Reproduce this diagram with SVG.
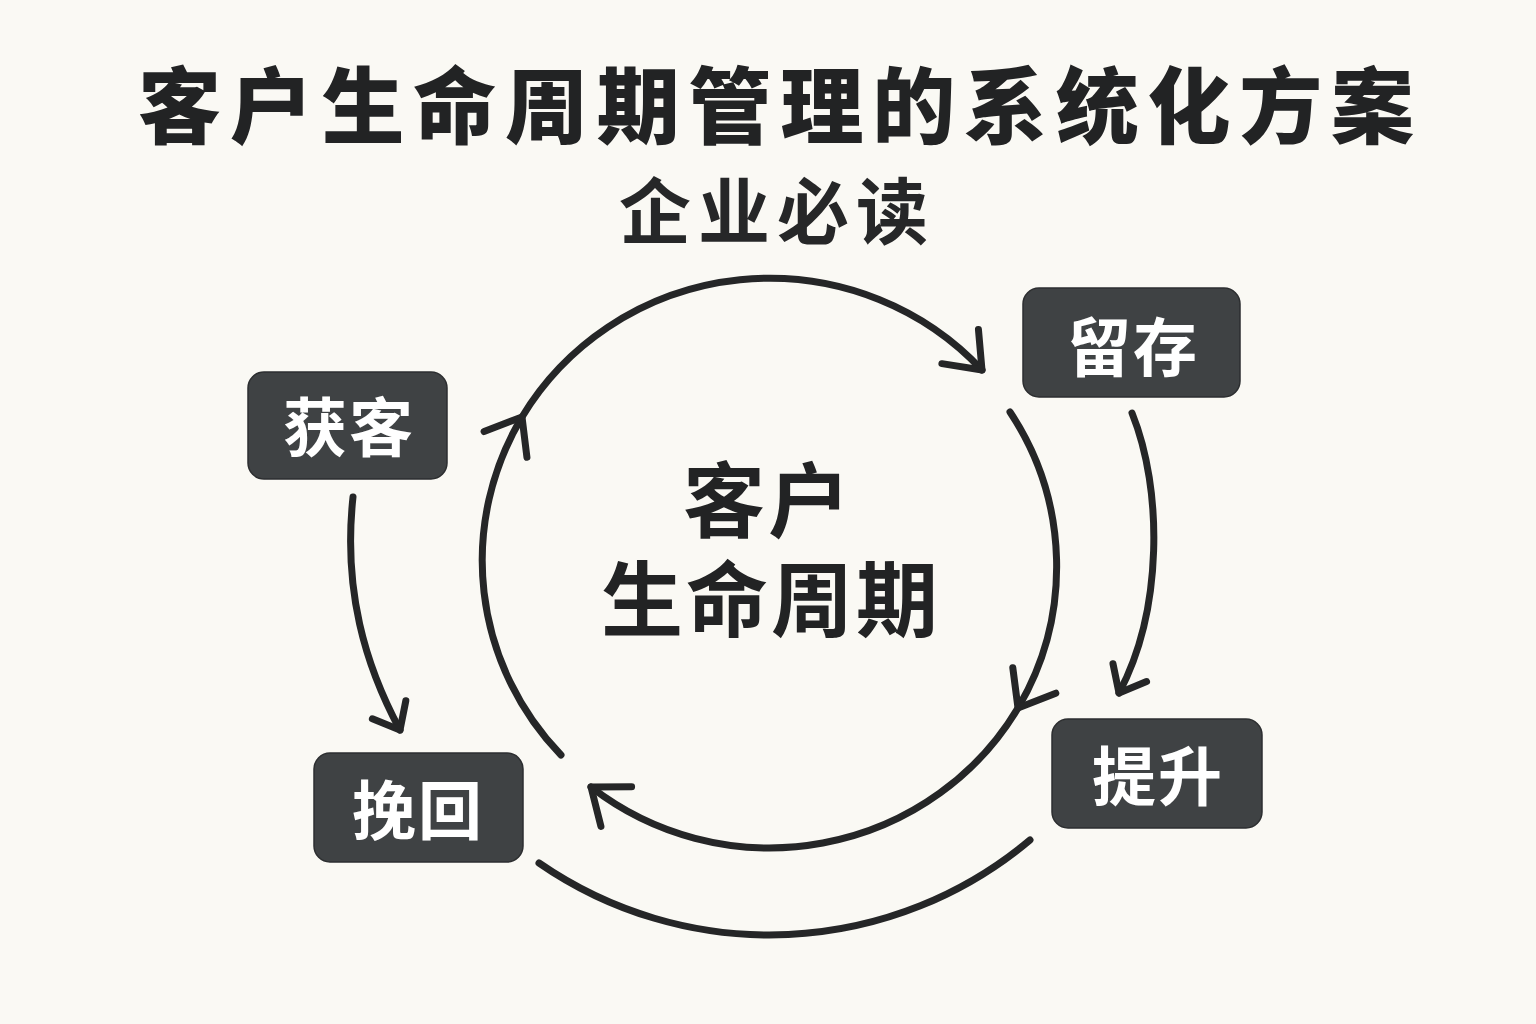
<svg xmlns="http://www.w3.org/2000/svg" width="1536" height="1024" viewBox="0 0 1536 1024">
<style>
.title{font-family:"Noto Sans CJK SC","Noto Sans",sans-serif;font-weight:900;fill:#222324}
.sub{font-family:"Noto Sans CJK SC","Noto Sans",sans-serif;font-weight:700;fill:#262728}
.center{font-family:"Noto Sans CJK SC","Noto Sans",sans-serif;font-weight:700;fill:#222324;text-anchor:middle}
.box{fill:#3f4244;stroke:#2c2e30;stroke-width:1.5}
.lbl{font-family:"Noto Sans CJK SC","Noto Sans",sans-serif;font-weight:700;fill:#ffffff;font-size:64px;text-anchor:middle;letter-spacing:2px}
.edge{fill:none;stroke:#252627;stroke-width:7;stroke-linecap:round}
.ah{fill:none;stroke:#252627;stroke-width:7;stroke-linecap:round;stroke-linejoin:round}
</style>
<defs>
<marker id="big" markerUnits="userSpaceOnUse" viewBox="-45 -35 55 70" refX="0" refY="0" markerWidth="55" markerHeight="70" orient="auto" overflow="visible">
<path class="ah" d="M-32,-25 L0,0 L-32,25"/>
</marker>
<marker id="small" markerUnits="userSpaceOnUse" viewBox="-35 -30 45 60" refX="0" refY="0" markerWidth="45" markerHeight="60" orient="auto" overflow="visible">
<path class="ah" d="M-23,-19 L0,0 L-23,19"/>
</marker>
</defs>
<rect width="1536" height="1024" fill="#faf9f4"/>
<text class="title" x="138" y="137" font-size="83" textLength="1276" lengthAdjust="spacing">客户生命周期管理的系统化方案</text>
<text class="sub" x="619" y="238" font-size="72" letter-spacing="7">企业必读</text>
<g id="center">
<text class="center" font-size="82" letter-spacing="3"><tspan x="768" y="531">客户</tspan><tspan x="771" y="630">生命周期</tspan></text>
</g>
<g id="connectors">
<path class="edge" d="M561,755 A288,283 0 0 1 522,417 A288,283 0 0 1 982,370" marker-mid="url(#big)" marker-end="url(#big)"/>
<path class="edge" d="M1010,412 A288,283 0 0 1 1018,708 A288,283 0 0 1 591,787" marker-mid="url(#big)" marker-end="url(#big)"/>
<path class="edge" d="M539,863 A405,405 0 0 0 1030,840"/>
<path class="edge" d="M353,497 C343,590 365,665 400,730" marker-end="url(#small)"/>
<path class="edge" d="M1132,413 C1163,490 1163,610 1119,693" marker-end="url(#small)"/>
</g>
<g id="node-huoke">
<rect class="box" x="248" y="372" width="199" height="107" rx="16"/>
<text class="lbl" x="349" y="451">获客</text>
</g>
<g id="node-liucun">
<rect class="box" x="1023" y="288" width="217" height="109" rx="16"/>
<text class="lbl" x="1133" y="371">留存</text>
</g>
<g id="node-tisheng">
<rect class="box" x="1052" y="719" width="210" height="109" rx="16"/>
<text class="lbl" x="1158" y="800">提升</text>
</g>
<g id="node-wanhui">
<rect class="box" x="314" y="753" width="209" height="109" rx="16"/>
<text class="lbl" x="418" y="834">挽回</text>
</g>
</svg>
